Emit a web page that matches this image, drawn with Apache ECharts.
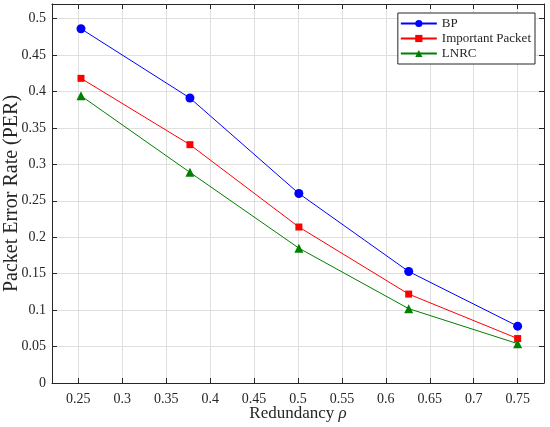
<!DOCTYPE html>
<html>
<head>
<meta charset="utf-8">
<script src="https://cdn.jsdelivr.net/npm/echarts@6/dist/echarts.min.js"></script>
<style>
html,body{margin:0;padding:0;background:#fff;}
#main{width:550px;height:427px;}
</style>
</head>
<body>
<div id="main"></div>
<script>
// redundancy values (x)
var redundancy = [0.253, 0.377, 0.501, 0.626, 0.75];
// PER for each scheme
var perBP = [0.486, 0.391, 0.260, 0.153, 0.078];
var perImportant = [0.418, 0.327, 0.214, 0.122, 0.061];
var perLNRC = [0.394, 0.289, 0.185, 0.102, 0.054];
var seriesNames = ['BP', 'Important Packet', 'LNRC'];

function pairs(ys) {
	var out = [];
	for (var i = 0; i < redundancy.length; i++) {
		out.push([redundancy[i], ys[i]]);
	}
	return out;
}

var font = "'Liberation Serif', 'Times New Roman', serif";

function xAxisCfg(main) {
	return {
		type: 'value',
		position: main ? 'bottom' : 'top',
		min: 0.22,
		max: 0.78,
		splitNumber: 11,
		axisLine: {show: true, onZero: false, lineStyle: {color: '#262626', width: 1}},
		axisTick: {show: true, inside: true, length: 5, lineStyle: {color: '#262626'}},
		axisLabel: {
			show: main, showMinLabel: false, showMaxLabel: false,
			color: '#262626', fontFamily: font, fontSize: 14, margin: 9
		},
		splitLine: {show: main, lineStyle: {color: '#dfdfdf', width: 1}},
		name: main ? '{a|Redundancy }{b|ρ}' : '',
		nameLocation: 'middle',
		nameGap: 22,
		nameMoveOverlap: false,
		nameTextStyle: {
			rich: {
				a: {fontFamily: font, fontSize: 17, color: '#262626'},
				b: {fontFamily: font, fontSize: 17, fontStyle: 'italic', color: '#262626'}
			}
		}
	};
}

function yAxisCfg(main) {
	return {
		type: 'value',
		position: main ? 'left' : 'right',
		min: 0,
		max: 0.52,
		splitNumber: 10,
		axisLine: {show: true, onZero: false, lineStyle: {color: '#262626', width: 1}},
		axisTick: {show: true, inside: true, length: 5, lineStyle: {color: '#262626'}},
		axisLabel: {
			show: main, showMaxLabel: false,
			color: '#262626', fontFamily: font, fontSize: 14, margin: 6
		},
		splitLine: {show: main, lineStyle: {color: '#dfdfdf', width: 1}},
		name: main ? 'Packet Error Rate (PER)' : '',
		nameLocation: 'middle',
		nameGap: 30,
		nameMoveOverlap: false,
		nameTextStyle: {fontFamily: font, fontSize: 20, color: '#262626'}
	};
}

function render() {
	var chart = echarts.init(document.getElementById('main'));
	var option = {
		animation: false,
		backgroundColor: '#fff',
		textStyle: {fontFamily: font},
		grid: {left: 52, right: 6, top: 4, bottom: 44, outerBoundsMode: 'none', containLabel: false},
		legend: {
			data: seriesNames,
			orient: 'vertical',
			right: 15,
			top: 13,
			itemWidth: 36,
			itemHeight: 9,
			itemGap: 2,
			padding: [4, 4, 4, 2],
			backgroundColor: '#fff',
			borderColor: '#262626',
			borderWidth: 1,
			borderRadius: 0,
			textStyle: {fontFamily: font, fontSize: 13, color: '#262626'}
		},
		xAxis: [xAxisCfg(true), xAxisCfg(false)],
		yAxis: [yAxisCfg(true), yAxisCfg(false)],
		series: [{
			name: 'BP',
			type: 'line',
			data: pairs(perBP),
			color: '#0000ff',
			symbol: 'circle',
			symbolSize: 9,
			lineStyle: {width: 1}
		}, {
			name: 'Important Packet',
			type: 'line',
			data: pairs(perImportant),
			color: '#ff0000',
			symbol: 'rect',
			symbolSize: 7,
			lineStyle: {width: 1}
		}, {
			name: 'LNRC',
			type: 'line',
			data: pairs(perLNRC),
			color: '#008000',
			symbol: 'triangle',
			symbolSize: 9,
			lineStyle: {width: 1}
		}]
	};
	chart.setOption(option);
}

if (document.fonts && document.fonts.ready) {
	document.fonts.ready.then(render);
} else {
	render();
}
</script>
</body>
</html>
